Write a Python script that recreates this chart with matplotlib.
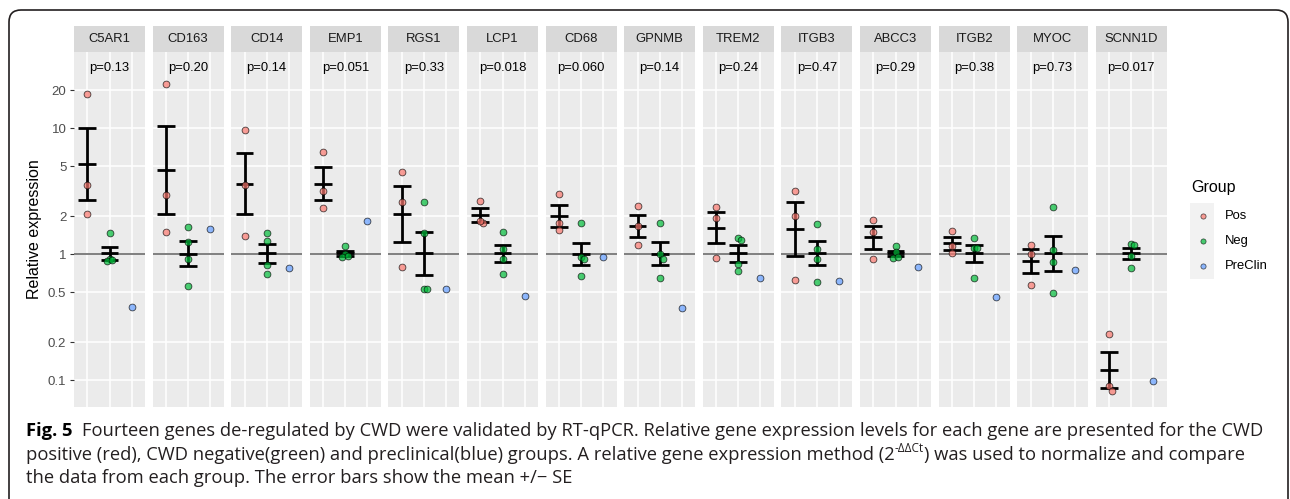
import matplotlib
matplotlib.use('Agg')
import matplotlib.pyplot as plt
import numpy as np
from matplotlib.patches import Rectangle, FancyBboxPatch
from matplotlib.transforms import IdentityTransform
from matplotlib.ticker import NullLocator

# ---- data ----
genes = ['C5AR1', 'CD163', 'CD14', 'EMP1', 'RGS1', 'LCP1', 'CD68',
         'GPNMB', 'TREM2', 'ITGB3', 'ABCC3', 'ITGB2', 'MYOC', 'SCNN1D']
p_labels = ['p=0.13', 'p=0.20', 'p=0.14', 'p=0.051', 'p=0.33', 'p=0.018', 'p=0.060',
            'p=0.14', 'p=0.24', 'p=0.47', 'p=0.29', 'p=0.38', 'p=0.73', 'p=0.017']
pos_values = [
    [18.8, 3.57, 2.09],
    [22.6, 2.96, 1.51],
    [9.6, 3.57, 1.40],
    [6.5, 3.15, 2.32],
    [4.5, 2.57, 0.79],
    [2.62, 1.76, 1.84],
    [2.99, 1.77, 1.55],
    [2.39, 1.67, 1.19],
    [2.37, 1.92, 0.93],
    [3.18, 2.01, 0.62],
    [1.86, 1.50, 0.91],
    [1.53, 1.16, 1.02],
    [1.18, 1.01, 0.57],
    [0.233, 0.090, 0.082],
]
neg_values = [
    [1.46, 0.91, 0.88, 0.90],
    [1.63, 1.24, 0.92, 0.56],
    [1.46, 1.28, 0.82, 0.69],
    [1.15, 1.00, 0.94, 0.97],
    [2.59, 1.48, 0.525, 0.525],
    [1.50, 1.10, 0.91, 0.70],
    [1.77, 0.95, 0.92, 0.67],
    [1.78, 1.00, 0.91, 0.645],
    [1.35, 1.29, 0.83, 0.73],
    [1.74, 1.10, 0.92, 0.60],
    [1.16, 1.03, 0.935, 0.947],
    [1.34, 1.11, 1.11, 0.645],
    [2.35, 1.07, 0.86, 0.49],
    [1.21, 1.18, 0.96, 0.78],
]
preclin_values = [0.377, 1.58, 0.774, 1.82, 0.531, 0.462, 0.94,
                  0.373, 0.641, 0.614, 0.789, 0.453, 0.742, 0.0977]
groups = ['Pos', 'Neg', 'PreClin']
group_colors = ['#F8766D', '#00BA38', '#619CFF']
y_breaks = [0.1, 0.2, 0.5, 1, 2, 5, 10, 20]
label_y = 30

W, H = 1290, 499
fig = plt.figure(figsize=(W / 100, H / 100), dpi=100)
plot_font = 'Liberation Sans'
cap_font = 'Open Sans'


def fx(px):
    return px / W


def fy(py):
    return 1 - py / H


def log_mean_se(vals):
    l = np.log10(vals)
    m = l.mean()
    se = l.std(ddof=1) / np.sqrt(len(l))
    return 10 ** m, 10 ** (m - se), 10 ** (m + se)


def dodge(vals, width=0.13, tol=0.045):
    # push overlapping points sideways a little
    logs = np.log10(vals)
    offs = np.zeros(len(vals))
    placed = []
    for i in np.argsort(-logs):
        n = len([j for j in placed if abs(logs[j] - logs[i]) < tol])
        if n:
            offs[i] = width * ((n + 1) // 2) * (1 if n % 2 else -1)
        placed.append(i)
    return offs


all_vals = np.concatenate([np.ravel(pos_values), np.ravel(neg_values), preclin_values])
lo, hi = np.log10(all_vals.min()), np.log10(label_y)
pad = 0.05 * (hi - lo)
ylim = (10 ** (lo - pad), 10 ** (hi + pad))

left0, pitch, pw = 74, 78.6, 71
top, bottom, strip_h = 52, 407, 26

for i, gene in enumerate(genes):
    x0 = left0 + i * pitch
    ax = fig.add_axes([fx(x0), fy(bottom), pw / W, (bottom - top) / H])
    ax.set_facecolor('#EBEBEB')
    ax.set_yscale('log')
    ax.set_ylim(*ylim)
    ax.set_xlim(-0.6, 2.6)
    for s in ax.spines.values():
        s.set_visible(False)
    ax.set_xticks([0, 1, 2])
    ax.set_yticks(y_breaks)
    ax.yaxis.set_minor_locator(NullLocator())
    ax.grid(True, color='white', lw=1.1)
    ax.set_axisbelow(True)
    ax.tick_params(bottom=False, labelbottom=False)
    if i == 0:
        ax.set_yticklabels([f'{b:g}' for b in y_breaks])
        ax.tick_params(axis='y', length=3, width=0.8, color='#333333', pad=2.5,
                       labelsize=9.5, labelcolor='#4D4D4D')
        for t in ax.get_yticklabels():
            t.set_family(plot_font)
    else:
        ax.tick_params(left=False, labelleft=False)
    ax.axhline(1, color='#7F7F7F', lw=1.4, zorder=1.5)

    series = [pos_values[i], neg_values[i], [preclin_values[i]]]
    for k, vals in enumerate(series):
        vals = np.asarray(vals, dtype=float)
        if len(vals) > 1:
            m, lo_, hi_ = log_mean_se(vals)
            ax.vlines(k, lo_, hi_, color='black', lw=2, zorder=2)
            ax.hlines([lo_, m, hi_], k - 0.4, k + 0.4, color='black', lw=2, zorder=2)
        ax.scatter(k + dodge(vals), vals, s=24, c=group_colors[k], edgecolors='black',
                   linewidths=0.6, alpha=0.7, zorder=3)

    ax.text(1, label_y, p_labels[i], ha='center', va='center', fontsize=9.4,
            family=plot_font, color='black')
    sh = strip_h / (bottom - top)
    ax.add_patch(Rectangle((0, 1), 1, sh, transform=ax.transAxes, clip_on=False,
                           fc='#D9D9D9', ec='none'))
    ax.text(0.5, 1 + sh / 2, gene, transform=ax.transAxes, ha='center', va='center',
            fontsize=9.4, family=plot_font, color='#1A1A1A')

fig.text(fx(35), fy((top + bottom) / 2), 'Relative expression', rotation=90,
         ha='center', va='center', fontsize=11.5, family=plot_font)

# legend
lax = fig.add_axes([fx(1190), fy(279), 24 / W, 76 / H])
lax.set_facecolor('#F2F2F2')
lax.set_xlim(0, 1)
lax.set_ylim(-0.5, 2.5)
lax.set_xticks([])
lax.set_yticks([])
for s in lax.spines.values():
    s.set_visible(False)
for k, g in enumerate(groups):
    yk = 2 - k
    lax.scatter([0.55], [yk], s=14, c=group_colors[k], edgecolors='black',
                linewidths=0.5, alpha=0.7)
    lax.text(1.46, yk, g, va='center', ha='left', fontsize=9.4, family=plot_font,
             clip_on=False)
fig.text(fx(1191), fy(188), 'Group', va='center', ha='left', fontsize=11.5,
         family=plot_font)

# outer frame with rounded corners
frame = FancyBboxPatch((9, -40), 1279, H - 10 + 40, boxstyle='round,pad=0,rounding_size=12',
                       transform=IdentityTransform(), fc='none', ec='#231F20', lw=1.2)
fig.add_artist(frame)

# caption
renderer = fig.canvas.get_renderer()
cap_kw = dict(family=cap_font, fontsize=13.2, color='#231F20', va='baseline')


def caption_line(y_px, pieces):
    x = 26
    for txt, kw, gap in pieces:
        opts = dict(cap_kw)
        opts.update(kw)
        dy = opts.pop('dy', 0)
        t = fig.text(fx(x), fy(y_px - dy), txt, **opts)
        x += t.get_window_extent(renderer).width + gap


caption_line(436, [
    ('Fig. 5', dict(weight='bold', color='black'), 9),
    ('Fourteen genes de-regulated by CWD were validated by RT-qPCR. Relative gene '
     'expression levels for each gene are presented for the CWD', {}, 0),
])
caption_line(459.5, [
    ('positive (red), CWD negative(green) and preclinical(blue) groups. A relative gene '
     'expression method (2', {}, 0),
    ('-ΔΔCt', dict(fontsize=8.5, dy=7), 0.5),
    (') was used to normalize and compare', {}, 0),
])
caption_line(483, [
    ('the data from each group. The error bars show the mean +/\u2212 SE', {}, 0),
])

fig.savefig('out.png', dpi=100)
